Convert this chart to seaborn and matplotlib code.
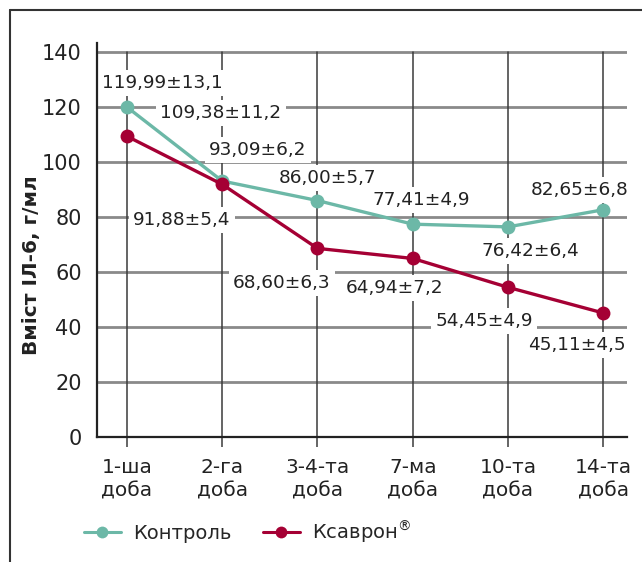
import matplotlib
matplotlib.use("Agg")
import matplotlib.pyplot as plt
import matplotlib.lines as mlines
import seaborn as sns
import pandas as pd

categories = ["1-ша\nдоба", "2-га\nдоба", "3-4-та\nдоба", "7-ма\nдоба", "10-та\nдоба", "14-та\nдоба"]
control = [119.99, 93.09, 86.00, 77.41, 76.42, 82.65]
control_sd = ["13,1", "6,2", "5,7", "4,9", "6,4", "6,8"]
ksavron = [109.38, 91.88, 68.60, 64.94, 54.45, 45.11]
ksavron_sd = ["11,2", "5,4", "6,3", "7,2", "4,9", "4,5"]
series_names = ["Контроль", "Ксаврон$^{\\circledR}$"]
y_ticks = [0, 20, 40, 60, 80, 100, 120, 140]

teal = "#6cb8a7"
crimson = "#a50034"

sns.set_theme(style="white")
plt.rcParams['font.family'] = ['DejaVu Sans']

rows = []
for i, v in enumerate(control):
    rows.append({"x": i, "val": v, "grp": "Контроль"})
for i, v in enumerate(ksavron):
    rows.append({"x": i, "val": v, "grp": "Ксаврон"})
df = pd.DataFrame(rows)

fig = plt.figure(figsize=(6.42, 5.62), dpi=100)
ax = fig.add_axes([97/642, 1-437/562, (627-97)/642, (437-43)/562])

ax.set_xlim(-0.315, 5.25)
ax.set_ylim(0, 143.3)

# grid
for yv in y_ticks[1:]:
    ax.axhline(yv, color="#8a8a8a", lw=2.0, zorder=1)
for i in range(len(categories)):
    ax.axvline(i, ymin=0, ymax=140/143.3, color="#3a3a3a", lw=1.1, zorder=1)

sns.lineplot(data=df, x="x", y="val", hue="grp", palette=[teal, crimson],
             marker="o", markersize=10, markeredgewidth=0, linewidth=2.4,
             ax=ax, legend=False, zorder=3)

def fmt(v):
    return f"{v:.2f}".replace(".", ",")

box = dict(boxstyle="square,pad=0.22", fc="white", ec="none")
c_pos = [(162, 83), (258, 150), (328, 178), (421, 200), (530, 251), (580, 190)]
k_pos = [(221, 113), (182, 220), (282, 283), (395, 288), (484, 321), (577, 345)]

def px2data(px, py):
    xd = -0.315 + (px - 97) / (627 - 97) * (5.25 + 0.315)
    yd = (437 - py) / (437 - 43) * 143.3
    return xd, yd

for i in range(len(control)):
    xd, yd = px2data(*c_pos[i])
    ax.text(xd, yd, f"{fmt(control[i])}±{control_sd[i]}", ha="center", va="center",
            fontsize=13.3, color="#222222", bbox=box, zorder=2)
    xd, yd = px2data(*k_pos[i])
    ax.text(xd, yd, f"{fmt(ksavron[i])}±{ksavron_sd[i]}", ha="center", va="center",
            fontsize=13.3, color="#222222", bbox=box, zorder=2)

ax.set_xticks(range(len(categories)))
ax.set_xticklabels(categories, fontsize=14.5, color="#222222", linespacing=1.3)
ax.set_yticks(y_ticks)
ax.set_yticklabels([str(t) for t in y_ticks], fontsize=15, color="#222222")
ax.tick_params(axis="x", length=7, width=1.1, color="#3a3a3a", pad=8, bottom=True)
ax.tick_params(axis="y", length=0, pad=11)

for s in ["top", "right"]:
    ax.spines[s].set_visible(False)
for s in ["left", "bottom"]:
    ax.spines[s].set_color("#222222")
    ax.spines[s].set_linewidth(1.6)

ax.set_xlabel("")
ax.set_ylabel("Вміст ІЛ-6, г/мл", fontsize=14.5, fontweight="bold", color="#222222")
ax.yaxis.set_label_coords((41 - 97) / 530, (437 - 265) / 394)

h1 = mlines.Line2D([], [], color=teal, marker="o", markersize=8.5, lw=2.2, markeredgewidth=0)
h2 = mlines.Line2D([], [], color=crimson, marker="o", markersize=8.5, lw=2.2, markeredgewidth=0)
fig.legend([h1, h2], series_names, loc="center left", bbox_to_anchor=(70/642, 1-532/562),
           ncol=2, frameon=False, fontsize=14, handlelength=1.9, columnspacing=1.6,
           handletextpad=0.65, borderpad=0.2)

# outer frame
fig.add_artist(mlines.Line2D([10/642, 1], [1-10/562, 1-10/562], color="#333333", lw=1.5,
                             transform=fig.transFigure))
fig.add_artist(mlines.Line2D([10/642, 10/642], [0, 1-10/562], color="#333333", lw=1.5,
                             transform=fig.transFigure))

fig.savefig("out.png", dpi=100)
